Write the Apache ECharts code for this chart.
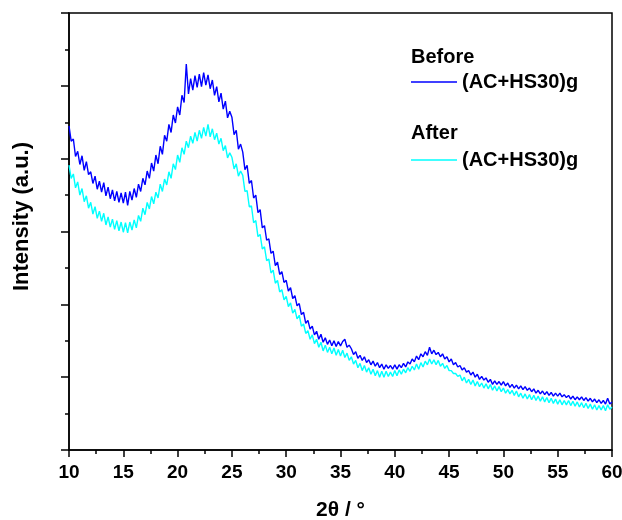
<!DOCTYPE html>
<html>
<head>
<meta charset="utf-8">
<script src="https://cdn.jsdelivr.net/npm/echarts@6/dist/echarts.min.js"></script>
<style>
  html, body { margin: 0; padding: 0; background: #fff; }
  #chart { width: 622px; height: 520px; }
</style>
</head>
<body>
<div id="chart"></div>
<script>
// scan grid: 10..60 deg, step 0.2
var scanStart = 10;
var scanStep = 0.2;
var xTicks = [10, 15, 20, 25, 30, 35, 40, 45, 50, 55, 60];

// intensities (a.u.), one row per degree
var beforeIntensity = [
  4.45, 4.24, 4.27, 4.03, 4.10,
  3.92, 4.04, 3.84, 3.96, 3.78,
  3.82, 3.66, 3.76, 3.58, 3.69,
  3.54, 3.67, 3.49, 3.61, 3.45,
  3.57, 3.42, 3.55, 3.40, 3.53,
  3.39, 3.54, 3.36, 3.55, 3.43,
  3.59, 3.47, 3.65, 3.55, 3.73,
  3.64, 3.83, 3.73, 3.94, 3.83,
  4.05, 3.93, 4.17, 4.06, 4.32,
  4.24, 4.47, 4.36, 4.60, 4.49,
  4.71, 4.60, 4.87, 4.77, 5.30,
  4.89, 5.10, 4.94, 5.14, 4.98,
  5.16, 4.99, 5.18, 5.01, 5.15,
  4.96, 5.08, 4.87, 4.99, 4.78,
  4.90, 4.68, 4.79, 4.56, 4.65,
  4.57, 4.33, 4.39, 4.13, 4.20,
  4.09, 3.85, 3.91, 3.66, 3.70,
  3.46, 3.50, 3.26, 3.30, 3.05,
  3.08, 2.88, 2.90, 2.70, 2.73,
  2.53, 2.58, 2.41, 2.45, 2.30,
  2.33, 2.18, 2.23, 2.08, 2.12,
  1.98, 2.01, 1.86, 1.89, 1.74,
  1.78, 1.66, 1.70, 1.58, 1.63,
  1.52, 1.59, 1.48, 1.54, 1.45,
  1.51, 1.43, 1.50, 1.42, 1.49,
  1.43, 1.49, 1.52, 1.41, 1.44,
  1.39, 1.31, 1.35, 1.26, 1.30,
  1.23, 1.28, 1.20, 1.24, 1.17,
  1.22, 1.15, 1.20, 1.13, 1.18,
  1.11, 1.17, 1.12, 1.16, 1.11,
  1.17, 1.11, 1.17, 1.13, 1.19,
  1.14, 1.21, 1.18, 1.25, 1.21,
  1.29, 1.24, 1.32, 1.28, 1.35,
  1.30, 1.41, 1.32, 1.37, 1.31,
  1.34, 1.28, 1.32, 1.25, 1.28,
  1.21, 1.25, 1.17, 1.20, 1.14,
  1.16, 1.10, 1.13, 1.07, 1.09,
  1.03, 1.07, 1.00, 1.04, 0.97,
  1.01, 0.96, 0.99, 0.93, 0.97,
  0.90, 0.95, 0.90, 0.94, 0.89,
  0.94, 0.88, 0.92, 0.86, 0.90,
  0.85, 0.89, 0.84, 0.88, 0.83,
  0.87, 0.82, 0.85, 0.80, 0.84,
  0.78, 0.82, 0.77, 0.81, 0.76,
  0.80, 0.75, 0.79, 0.74, 0.78,
  0.74, 0.78, 0.73, 0.76, 0.72,
  0.75, 0.70, 0.74, 0.69, 0.73,
  0.69, 0.73, 0.68, 0.72, 0.67,
  0.71, 0.66, 0.70, 0.65, 0.69,
  0.64, 0.68, 0.63, 0.71, 0.63,
  0.66
];

var afterIntensity = [
  3.91, 3.73, 3.79, 3.60, 3.68,
  3.50, 3.59, 3.41, 3.49, 3.32,
  3.40, 3.24, 3.34, 3.18, 3.28,
  3.14, 3.25, 3.09, 3.20, 3.06,
  3.17, 3.03, 3.15, 3.01, 3.13,
  2.99, 3.12, 2.98, 3.13, 3.02,
  3.16, 3.05, 3.22, 3.14, 3.32,
  3.23, 3.40, 3.31, 3.48, 3.38,
  3.54, 3.46, 3.65, 3.55, 3.72,
  3.64, 3.82, 3.73, 3.93, 3.85,
  4.05, 3.95, 4.15, 4.06, 4.24,
  4.15, 4.31, 4.21, 4.36, 4.24,
  4.39, 4.28, 4.43, 4.31, 4.47,
  4.30, 4.41, 4.26, 4.35, 4.20,
  4.28, 4.11, 4.18, 4.01, 4.08,
  4.02, 3.86, 3.93, 3.76, 3.83,
  3.77, 3.55, 3.56, 3.34, 3.35,
  3.12, 3.15, 2.93, 2.96, 2.76,
  2.79, 2.60, 2.62, 2.43, 2.47,
  2.29, 2.33, 2.17, 2.20, 2.06,
  2.11, 1.97, 2.02, 1.88, 1.93,
  1.80, 1.85, 1.70, 1.73, 1.60,
  1.64, 1.52, 1.58, 1.46, 1.52,
  1.41, 1.48, 1.36, 1.44, 1.34,
  1.41, 1.32, 1.40, 1.30, 1.38,
  1.29, 1.37, 1.27, 1.33, 1.23,
  1.28, 1.18, 1.23, 1.13, 1.19,
  1.09, 1.16, 1.07, 1.13, 1.04,
  1.11, 1.02, 1.09, 1.00, 1.08,
  1.00, 1.08, 1.01, 1.07, 1.01,
  1.09, 1.02, 1.10, 1.04, 1.11,
  1.06, 1.13, 1.08, 1.15, 1.10,
  1.18, 1.11, 1.20, 1.14, 1.22,
  1.17, 1.25, 1.18, 1.24, 1.17,
  1.23, 1.15, 1.19, 1.12, 1.16,
  1.09, 1.09, 1.05, 1.05, 1.01,
  1.03, 0.95, 1.00, 0.92, 0.97,
  0.90, 0.96, 0.88, 0.94, 0.87,
  0.92, 0.85, 0.91, 0.84, 0.90,
  0.82, 0.88, 0.81, 0.87, 0.80,
  0.85, 0.78, 0.83, 0.77, 0.82,
  0.75, 0.81, 0.73, 0.78, 0.71,
  0.77, 0.70, 0.76, 0.69, 0.75,
  0.68, 0.74, 0.67, 0.73, 0.66,
  0.72, 0.65, 0.71, 0.64, 0.70,
  0.63, 0.69, 0.62, 0.68, 0.62,
  0.68, 0.61, 0.67, 0.60, 0.66,
  0.59, 0.65, 0.58, 0.64, 0.57,
  0.63, 0.56, 0.62, 0.55, 0.61,
  0.55, 0.61, 0.54, 0.62, 0.56,
  0.59
];

function toPairs(values) {
  return values.map(function (v, i) {
    return [+(scanStart + i * scanStep).toFixed(1), v];
  });
}

var font = '"Liberation Sans", Arial, sans-serif';

var myChart = echarts.init(document.getElementById('chart'));

var option = {
  animation: false,
  grid: {
    left: 69,
    right: 10,
    top: 13,
    bottom: 70,
    outerBoundsMode: 'none',
    containLabel: false,
    show: true,
    borderColor: '#000',
    borderWidth: 1.5
  },
  legend: [{
    data: ['Before'],
    left: 411,
    top: 72,
    padding: 0,
    icon: 'rect',
    itemWidth: 46,
    itemHeight: 1.5,
    formatter: function () { return '(AC+HS30)g'; },
    textStyle: { color: '#000', fontSize: 20, fontWeight: 'bold', fontFamily: font }
  }, {
    data: ['After'],
    left: 411,
    top: 150,
    padding: 0,
    icon: 'rect',
    itemWidth: 46,
    itemHeight: 1.5,
    formatter: function () { return '(AC+HS30)g'; },
    textStyle: { color: '#000', fontSize: 20, fontWeight: 'bold', fontFamily: font }
  }],
  graphic: [{
    type: 'text',
    left: 411,
    top: 47,
    style: { text: 'Before', fill: '#000', font: 'bold 20px ' + font }
  }, {
    type: 'text',
    left: 411,
    top: 123,
    style: { text: 'After', fill: '#000', font: 'bold 20px ' + font }
  }],
  xAxis: {
    type: 'value',
    min: 10,
    max: 60,
    interval: 5,
    name: '2θ / °',
    nameLocation: 'middle',
    nameGap: 50,
    nameTextStyle: { color: '#000', fontSize: 21, fontWeight: 'bold', fontFamily: font },
    axisLine: { lineStyle: { color: '#000', width: 1.5 } },
    axisTick: { show: true, inside: false, length: 7, lineStyle: { color: '#000', width: 1.5 } },
    minorTick: { show: true, splitNumber: 2, length: 4, lineStyle: { color: '#000', width: 1.5 } },
    axisLabel: {
      color: '#000', fontSize: 19, fontWeight: 'bold', fontFamily: font, margin: 13,
      formatter: function (v) { return xTicks.indexOf(v) >= 0 ? String(v) : ''; }
    },
    splitLine: { show: false }
  },
  yAxis: {
    type: 'value',
    min: 0,
    max: 6,
    interval: 1,
    name: 'Intensity (a.u.)',
    nameLocation: 'middle',
    nameGap: 36,
    nameTextStyle: {
      color: '#000', fontSize: 22, fontWeight: 'bold', fontFamily: font,
      padding: [0, 0, 0, 30]
    },
    axisLine: { show: true, lineStyle: { color: '#000', width: 1.5 } },
    axisTick: { show: true, inside: false, length: 8, lineStyle: { color: '#000', width: 1.5 } },
    minorTick: { show: true, splitNumber: 2, length: 4, lineStyle: { color: '#000', width: 1.5 } },
    axisLabel: { show: false },
    splitLine: { show: false }
  },
  series: [{
    name: 'Before',
    type: 'line',
    showSymbol: false,
    symbol: 'none',
    color: '#0000ff',
    lineStyle: { color: '#0000ff', width: 1.4 },
    data: toPairs(beforeIntensity)
  }, {
    name: 'After',
    type: 'line',
    showSymbol: false,
    symbol: 'none',
    color: '#00ffff',
    lineStyle: { color: '#00ffff', width: 1.4 },
    data: toPairs(afterIntensity)
  }]
};

myChart.setOption(option);
</script>
</body>
</html>
